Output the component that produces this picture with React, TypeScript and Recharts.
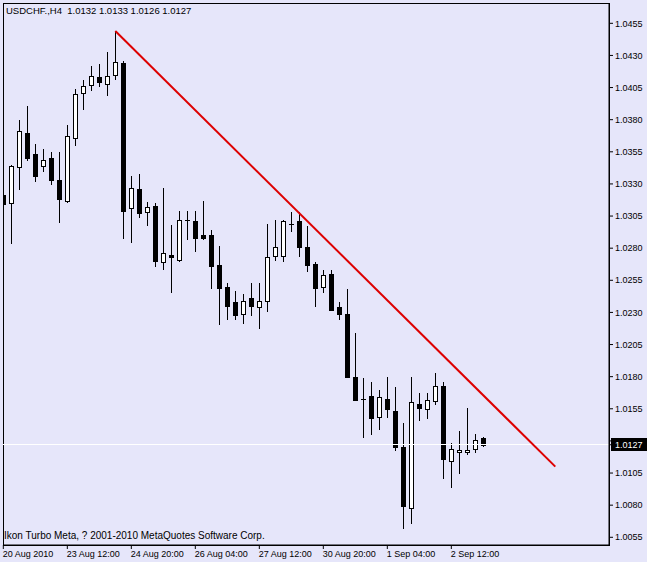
import { Bar, ComposedChart, Line, ReferenceArea, ReferenceLine, XAxis, YAxis } from "recharts";

// USDCHF H4 bars, oldest first
const opens = [
  1.0321, 1.0315, 1.0343, 1.037, 1.0353, 1.0344, 1.035, 1.0333, 1.0317, 1.0366,
  1.0401, 1.0407, 1.0413, 1.0408, 1.0415, 1.0424, 1.0311, 1.0326, 1.0308, 1.0313,
  1.0269, 1.0275, 1.0271, 1.0302, 1.0301, 1.029, 1.029, 1.0267, 1.025, 1.0238,
  1.0229, 1.0241, 1.0234, 1.0239, 1.0274, 1.0274, 1.0299, 1.0301, 1.0281, 1.0268,
  1.025, 1.026, 1.0234, 1.0229, 1.018, 1.0163, 1.0165, 1.0149, 1.0163, 1.0153,
  1.0125, 1.0078, 1.0159, 1.0155, 1.0161, 1.0173, 1.0114, 1.0121, 1.0121, 1.0124,
  1.0132,
];
const highs = [
  1.0328, 1.0345, 1.038, 1.0391, 1.0361, 1.0357, 1.0355, 1.0355, 1.0376, 1.0404,
  1.0411, 1.0422, 1.0423, 1.0433, 1.0449, 1.0426, 1.0336, 1.0338, 1.0316, 1.0315,
  1.0327, 1.0298, 1.0309, 1.0309, 1.0309, 1.0317, 1.0294, 1.0282, 1.0253, 1.0247,
  1.0244, 1.0253, 1.0253, 1.0299, 1.0302, 1.0302, 1.0308, 1.0308, 1.0297, 1.0269,
  1.0263, 1.0263, 1.0238, 1.0248, 1.0214, 1.0179, 1.0176, 1.017, 1.018, 1.0172,
  1.0144, 1.018, 1.0167, 1.0167, 1.0183, 1.0176, 1.0128, 1.0138, 1.0156, 1.0135,
  1.0133,
];
const lows = [
  1.0298, 1.0284, 1.0326, 1.0349, 1.0332, 1.034, 1.033, 1.03, 1.0316, 1.036,
  1.0388, 1.0403, 1.0406, 1.0399, 1.0412, 1.0288, 1.0285, 1.0304, 1.0298, 1.0266,
  1.0264, 1.0246, 1.027, 1.0287, 1.0278, 1.0287, 1.0249, 1.0221, 1.0225, 1.0225,
  1.0222, 1.0228, 1.0218, 1.0231, 1.0271, 1.027, 1.0293, 1.0274, 1.0262, 1.0235,
  1.0246, 1.0232, 1.0225, 1.018, 1.0162, 1.0133, 1.0135, 1.0139, 1.0149, 1.0123,
  1.0062, 1.0066, 1.0146, 1.0148, 1.0159, 1.0101, 1.0094, 1.0105, 1.012, 1.0121,
  1.0126,
];
const closes = [
  1.0314, 1.0344, 1.0371, 1.035, 1.0336, 1.0349, 1.0333, 1.0318, 1.0367, 1.04,
  1.0406, 1.0414, 1.0409, 1.0414, 1.0425, 1.0309, 1.0327, 1.0307, 1.0312, 1.027,
  1.0276, 1.0273, 1.0302, 1.0302, 1.0288, 1.0288, 1.0266, 1.0249, 1.0235, 1.0228,
  1.0239, 1.0235, 1.0239, 1.0273, 1.0281, 1.0301, 1.0299, 1.0281, 1.0267, 1.0249,
  1.0259, 1.0232, 1.0229, 1.018, 1.0162, 1.0163, 1.0148, 1.0164, 1.0155, 1.0125,
  1.0079, 1.016, 1.0156, 1.0162, 1.0173, 1.0116, 1.0124, 1.0123, 1.0123, 1.0131,
  1.0127,
];

const timeTicks = [0, 8, 16, 24, 32, 40, 48, 56];
const timeLabels = [
  "20 Aug 2010", "23 Aug 12:00", "24 Aug 20:00", "26 Aug 04:00",
  "27 Aug 12:00", "30 Aug 20:00", "1 Sep 04:00", "2 Sep 12:00",
];
const priceTicks = [
  1.0455, 1.043, 1.0405, 1.038, 1.0355, 1.033, 1.0305, 1.028, 1.0255,
  1.023, 1.0205, 1.018, 1.0155, 1.013, 1.0127, 1.0105, 1.008, 1.0055,
];
const bid = 1.0127;

// trend line anchors (bar index, price)
const trendBars = [14, 69];
const trendPrices = [1.0449, 1.011];

const xDomain = [-0.04, 75.71];
const yDomain = [1.0049, 1.04708];

const rows = opens.map((open, i) => ({
  i,
  range: [lows[i], highs[i]],
  open,
  high: highs[i],
  low: lows[i],
  close: closes[i],
}));
const trend = trendBars.map((i, k) => ({ i, t: trendPrices[k] }));

const FONT = '"Liberation Sans", Arial, sans-serif';
const BG = "#e6e6fa";

function Candle(props: any) {
  const { x, y, width, height, payload } = props;
  if (height == null || !payload) return null;
  const c = Math.round(x + width / 2);
  const k = height / (payload.high - payload.low);
  const yo = y + (payload.high - payload.open) * k;
  const yc = y + (payload.high - payload.close) * k;
  const top = Math.round(Math.min(yo, yc));
  const bot = Math.round(Math.max(yo, yc));
  const up = payload.close >= payload.open;
  let body;
  if (bot - top < 1) {
    body = <line x1={c - 2} x2={c + 3} y1={top + 0.5} y2={top + 0.5} stroke="#000" />;
  } else if (up) {
    body = <rect x={c - 1.5} y={top + 0.5} width={4} height={bot - top} fill="#fff" stroke="#000" />;
  } else {
    body = <rect x={c - 2} y={top} width={5} height={bot - top + 1} fill="#000" />;
  }
  return (
    <g shapeRendering="crispEdges">
      <line x1={c + 0.5} x2={c + 0.5} y1={Math.round(y)} y2={Math.round(y + height) + 1} stroke="#000" />
      {body}
    </g>
  );
}

function TimeTick({ x, y, payload }: any) {
  const label = timeLabels[timeTicks.indexOf(payload.value)];
  return (
    <text x={x - 0.5} y={y + 8} fontSize={9} fontFamily={FONT} fill="#000" textAnchor="start">
      {label}
    </text>
  );
}

function PriceTick({ x, y, payload }: any) {
  if (payload.value === bid) {
    return (
      <g>
        <rect x={x - 4} y={y - 6.5} width={37} height={13} fill="#000" shapeRendering="crispEdges" />
        <text x={x} y={y} dy={3.2} fontSize={9} fontFamily={FONT} fill="#fff">
          {bid.toFixed(4)}
        </text>
      </g>
    );
  }
  return (
    <text x={x} y={y} dy={3.2} fontSize={9} fontFamily={FONT} fill="#000">
      {payload.value.toFixed(4)}
    </text>
  );
}

export default function App() {
  return (
    <div style={{ position: "absolute", left: 0, top: 0, width: 647, height: 562, background: BG, overflow: "hidden" }}>
      <ComposedChart width={647} height={562} data={rows} margin={{ top: 3, right: 0, bottom: 0, left: 3 }}>
        <XAxis
          dataKey="i"
          type="number"
          domain={xDomain}
          allowDataOverflow
          ticks={timeTicks}
          interval={0}
          tick={<TimeTick />}
          tickSize={4}
          tickMargin={0}
          height={17}
          axisLine={{ stroke: "#000" }}
          tickLine={{ stroke: "#000" }}
        />
        <YAxis
          orientation="right"
          type="number"
          domain={yDomain}
          allowDataOverflow
          ticks={priceTicks}
          interval={0}
          tick={<PriceTick />}
          tickSize={4}
          tickMargin={2}
          width={38}
          axisLine={{ stroke: "#000" }}
          tickLine={{ stroke: "#000" }}
        />
        <ReferenceArea
          x1={xDomain[0]}
          x2={xDomain[1]}
          y1={yDomain[0]}
          y2={yDomain[1]}
          fill="none"
          stroke="#000"
          ifOverflow="visible"
          shapeRendering="crispEdges"
        />
        <ReferenceLine y={bid} stroke="#fff" shapeRendering="crispEdges" />
        <Bar dataKey="range" shape={(p: any) => <Candle {...p} />} isAnimationActive={false} />
        <Line
          data={trend}
          dataKey="t"
          type="linear"
          stroke="#dd0000"
          strokeWidth={2}
          dot={false}
          activeDot={false}
          isAnimationActive={false}
        />
      </ComposedChart>
      <div style={{ position: "absolute", left: 6, top: 5, fontFamily: FONT, fontSize: 9.5, lineHeight: "11px", color: "#000", whiteSpace: "pre" }}>
        {"USDCHF.,H4  1.0132 1.0133 1.0126 1.0127"}
      </div>
      <div style={{ position: "absolute", left: 4, top: 530, fontFamily: FONT, fontSize: 10, lineHeight: "11px", color: "#000", whiteSpace: "pre" }}>
        {"Ikon Turbo Meta, ? 2001-2010 MetaQuotes Software Corp."}
      </div>
    </div>
  );
}
